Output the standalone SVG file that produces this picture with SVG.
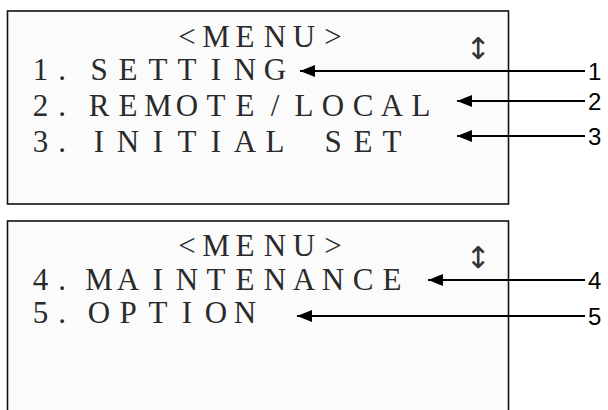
<svg xmlns="http://www.w3.org/2000/svg" width="608" height="410" viewBox="0 0 608 410">
  <style>
    .box { fill: #fbfbfb; stroke: #111; stroke-width: 1.6; }
    .lcd { font-family: 'Liberation Serif', 'Times New Roman', serif; font-size: 31px; fill: #2a2a2a; text-anchor: middle; }
    .sym { font-family: 'DejaVu Sans', sans-serif; font-size: 30px; fill: #333; text-anchor: middle; }
    .lbl { font-family: 'Liberation Sans', Arial, sans-serif; font-size: 24px; fill: #000; }
    .lead { stroke: #000; stroke-width: 2; fill: none; marker-end: url(#ah); }
  </style>
  <defs>
    <marker id="ah" viewBox="0 0 15 12" refX="15" refY="6" markerWidth="15" markerHeight="12" markerUnits="userSpaceOnUse" orient="auto">
      <path d="M0,0 L15,6 L0,12 Z" fill="#000"/>
    </marker>
  </defs>

  <g id="screen1">
    <rect class="box" x="7.5" y="11" width="501" height="193"/>
    <text class="lcd" font-family="Liberation Serif, serif" x="187,216,245,275,304,333" y="47">&lt;MENU&gt;</text>
    <text class="lcd" font-family="Liberation Serif, serif" x="40.5,62,99,128,158,187,216,245,275" y="80">1.SETTING</text>
    <text class="lcd" font-family="Liberation Serif, serif" x="40.5,62,99,128,158,187,216,245,275,304,333,363,392,421" y="116">2.REMOTE/LOCAL</text>
    <text class="lcd" font-family="Liberation Serif, serif" x="40.5,62,99,128,158,187,216,245,275,304,333,363,392" y="152">3.INITIAL SET</text>
    <text class="sym" x="478" y="59">↕</text>
  </g>

  <g id="screen2">
    <rect class="box" x="7.5" y="221" width="501" height="200"/>
    <text class="lcd" font-family="Liberation Serif, serif" x="187,216,245,275,304,333" y="256">&lt;MENU&gt;</text>
    <text class="lcd" font-family="Liberation Serif, serif" x="40.5,62,99,128,158,187,216,245,275,304,333,363,392" y="290">4.MAINTENANCE</text>
    <text class="lcd" font-family="Liberation Serif, serif" x="40.5,62,99,128,158,187,216,245" y="323">5.OPTION</text>
    <text class="sym" x="478" y="268">↕</text>
  </g>

  <g id="connectors">
    <line class="lead" x1="585" y1="71" x2="300" y2="71"/>
    <line class="lead" x1="585" y1="101" x2="457" y2="101"/>
    <line class="lead" x1="585" y1="136" x2="457" y2="136"/>
    <line class="lead" x1="585" y1="280" x2="428" y2="280"/>
    <line class="lead" x1="585" y1="316" x2="297" y2="316"/>
  </g>

  <g id="labels">
    <text class="lbl" x="588" y="80">1</text>
    <text class="lbl" x="588" y="110">2</text>
    <text class="lbl" x="588" y="145">3</text>
    <text class="lbl" x="588" y="289">4</text>
    <text class="lbl" x="588" y="325">5</text>
  </g>
</svg>
